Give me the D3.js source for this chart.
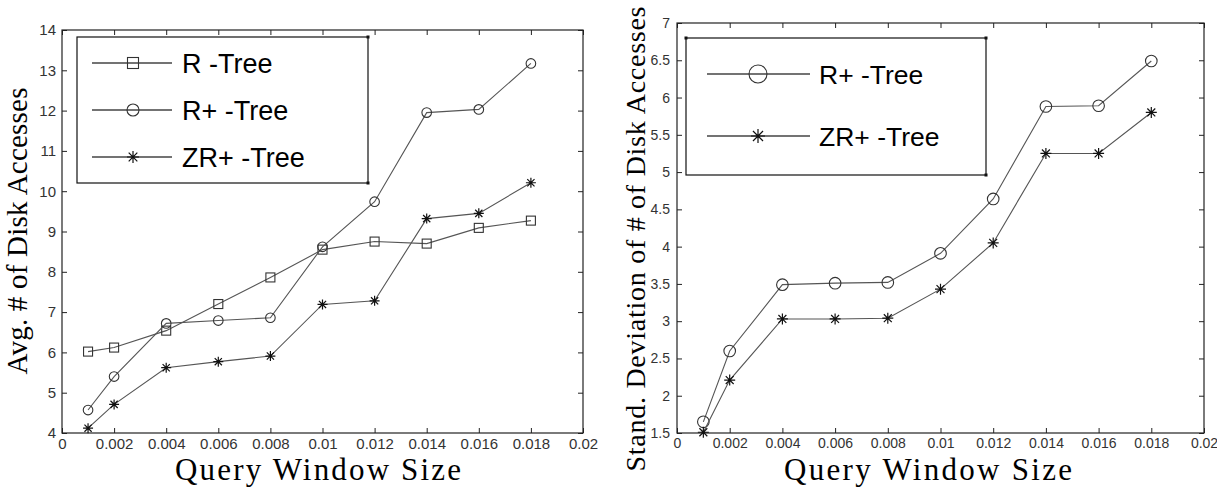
<!DOCTYPE html>
<html>
<head>
<meta charset="utf-8">
<script src="https://cdn.jsdelivr.net/npm/d3@7"></script>
<style>
  html, body { margin: 0; padding: 0; background: #fff; }
  svg { display: block; }
</style>
</head>
<body>
<svg id="chart" width="1217" height="487"></svg>
<script>
// ---------- DATA ----------
const windowSizes = [0.001, 0.002, 0.004, 0.006, 0.008, 0.010, 0.012, 0.014, 0.016, 0.018];

// Left chart: Avg. # of Disk Accesses
const avgRTree   = [6.02, 6.12, 6.54, 7.20, 7.86, 8.55, 8.75, 8.70, 9.09, 9.27];
const avgRPlus   = [4.57, 5.40, 6.72, 6.79, 6.86, 8.62, 9.74, 11.95, 12.03, 13.17];
const avgZRPlus  = [4.12, 4.71, 5.62, 5.77, 5.91, 7.19, 7.28, 9.32, 9.45, 10.21];

// Right chart: Stand. Deviation of # of Disk Accesses
const sdRPlus    = [1.65, 2.60, 3.49, 3.51, 3.52, 3.91, 4.64, 5.88, 5.89, 6.49];
const sdZRPlus   = [1.51, 2.21, 3.03, 3.03, 3.04, 3.43, 4.05, 5.25, 5.25, 5.80];

const xTickValues = [0, 0.002, 0.004, 0.006, 0.008, 0.01, 0.012, 0.014, 0.016, 0.018, 0.02];
const xTickLabels = ["0", "0.002", "0.004", "0.006", "0.008", "0.01", "0.012", "0.014", "0.016", "0.018", "0.02"];
const leftYTicks  = [4, 5, 6, 7, 8, 9, 10, 11, 12, 13, 14];
const leftYLabels = ["4", "5", "6", "7", "8", "9", "10", "11", "12", "13", "14"];
const rightYTicks  = [1.5, 2, 2.5, 3, 3.5, 4, 4.5, 5, 5.5, 6, 6.5, 7];
const rightYLabels = ["1.5", "2", "2.5", "3", "3.5", "4", "4.5", "5", "5.5", "6", "6.5", "7"];

const leftSeriesNames  = ["R -Tree", "R+ -Tree", "ZR+ -Tree"];
const rightSeriesNames = ["R+ -Tree", "ZR+ -Tree"];

const xAxisTitle = "Query Window Size";
const leftYTitle = "Avg. # of Disk Accesses";
const rightYTitle = "Stand. Deviation of # of Disk Accesses";

// ---------- DRAWING ----------
const svg = d3.select("#chart");
const LINE_COLOR = "#555";
const MARK_COLOR = "#333";

function drawMarker(g, type, x, y, s) {
  if (type === "square") {
    g.append("rect").attr("x", x - s).attr("y", y - s).attr("width", 2 * s).attr("height", 2 * s)
      .attr("fill", "none").attr("stroke", MARK_COLOR).attr("stroke-width", 1.1);
  } else if (type === "circle") {
    g.append("circle").attr("cx", x).attr("cy", y).attr("r", s)
      .attr("fill", "none").attr("stroke", MARK_COLOR).attr("stroke-width", 1.1);
  } else if (type === "star") {
    const d = s * 0.72;
    const p = `M${x - s},${y}L${x + s},${y}M${x},${y - s}L${x},${y + s}` +
              `M${x - d},${y - d}L${x + d},${y + d}M${x - d},${y + d}L${x + d},${y - d}`;
    g.append("path").attr("d", p).attr("stroke", "#111").attr("stroke-width", 1.2).attr("fill", "none");
  }
}

function drawPanel(cfg) {
  const g = svg.append("g");
  const x = d3.scaleLinear().domain([0, 0.02]).range([cfg.x0, cfg.x1]);
  const y = d3.scaleLinear().domain(cfg.yDomain).range([cfg.y1, cfg.y0]);

  const fmtX = d => xTickLabels[xTickValues.indexOf(d)];
  const fmtY = d => cfg.yLabels[cfg.yTicks.indexOf(d)];

  const bx = g.append("g").attr("transform", `translate(0,${cfg.y1})`)
    .call(d3.axisBottom(x).tickValues(xTickValues).tickFormat(fmtX)
      .tickSizeInner(-5).tickSizeOuter(0).tickPadding(5));
  const tx = g.append("g").attr("transform", `translate(0,${cfg.y0})`)
    .call(d3.axisTop(x).tickValues(xTickValues).tickFormat("")
      .tickSizeInner(-5).tickSizeOuter(0));
  const ly = g.append("g").attr("transform", `translate(${cfg.x0},0)`)
    .call(d3.axisLeft(y).tickValues(cfg.yTicks).tickFormat(fmtY)
      .tickSizeInner(-5).tickSizeOuter(0).tickPadding(cfg.yPad));
  const ry = g.append("g").attr("transform", `translate(${cfg.x1},0)`)
    .call(d3.axisRight(y).tickValues(cfg.yTicks).tickFormat("")
      .tickSizeInner(-5).tickSizeOuter(0));

  [bx, tx, ly, ry].forEach(a => {
    a.select(".domain").remove();
    a.selectAll(".tick line").attr("stroke", "#222");
    a.selectAll("text").attr("font-family", "Liberation Sans, Arial, sans-serif")
      .attr("font-size", cfg.tickFont).attr("fill", "#333");
  });

  g.append("rect").attr("x", cfg.x0).attr("y", cfg.y0)
    .attr("width", cfg.x1 - cfg.x0).attr("height", cfg.y1 - cfg.y0)
    .attr("fill", "none").attr("stroke", "#222").attr("stroke-width", 1.2);

  const line = d3.line().x((d, i) => x(windowSizes[i])).y(d => y(d));
  cfg.series.forEach(s => {
    g.append("path").datum(s.values).attr("d", line)
      .attr("fill", "none").attr("stroke", LINE_COLOR).attr("stroke-width", 1.1);
    s.values.forEach((v, i) => drawMarker(g, s.marker, x(windowSizes[i]), y(v), s.size));
  });

  const L = cfg.legend;
  g.append("rect").attr("x", L.x0).attr("y", L.y0).attr("width", L.x1 - L.x0).attr("height", L.y1 - L.y0)
    .attr("fill", "#fff").attr("stroke", "#111").attr("stroke-width", 1.2);
  L.corners.forEach(([cx, cy]) => {
    g.append("rect").attr("x", cx - 1.5).attr("y", cy - 1.5).attr("width", 3).attr("height", 3).attr("fill", "#111");
  });
  cfg.series.forEach((s, i) => {
    const ly0 = L.rows[i];
    g.append("line").attr("x1", L.lx0).attr("x2", L.lx1).attr("y1", ly0).attr("y2", ly0)
      .attr("stroke", "#444").attr("stroke-width", 1.3);
    drawMarker(g, s.marker, L.mx, ly0, L.msize[i]);
    g.append("text").attr("x", L.tx).attr("y", ly0).attr("dy", "0.36em")
      .attr("font-family", "Liberation Sans, Arial, sans-serif").attr("font-size", L.font)
      .attr("fill", "#000").text(s.name);
  });

  g.append("text").attr("x", cfg.xTitle.x).attr("y", cfg.xTitle.y).attr("text-anchor", "middle")
    .attr("font-family", "Liberation Serif, Times New Roman, serif").attr("font-size", cfg.xTitle.size)
    .attr("textLength", cfg.xTitle.len).attr("fill", "#000").text(xAxisTitle);
  g.append("text").attr("transform", `translate(${cfg.yTitle.x},${cfg.yTitle.y}) rotate(-90)`)
    .attr("text-anchor", "middle")
    .attr("font-family", "Liberation Serif, Times New Roman, serif").attr("font-size", cfg.yTitle.size)
    .attr("textLength", cfg.yTitle.len).attr("fill", "#000").text(cfg.yTitle.text);
}

drawPanel({
  x0: 62, x1: 583, y0: 30, y1: 433,
  yDomain: [4, 14], yTicks: leftYTicks, yLabels: leftYLabels, yPad: 6, tickFont: 15,
  series: [
    { name: leftSeriesNames[0], values: avgRTree,  marker: "square", size: 4.5 },
    { name: leftSeriesNames[1], values: avgRPlus,  marker: "circle", size: 4.8 },
    { name: leftSeriesNames[2], values: avgZRPlus, marker: "star",   size: 5 }
  ],
  legend: { x0: 77, x1: 368, y0: 37, y1: 183, rows: [63, 110, 157],
            lx0: 92, lx1: 172, mx: 133, tx: 182, font: 27, msize: [5.5, 6, 6],
            corners: [[368, 37], [368, 183]] },
  xTitle: { x: 318, y: 480, size: 31, len: 286 },
  yTitle: { x: 27, y: 231, size: 29, len: 287, text: leftYTitle }
});

drawPanel({
  x0: 677, x1: 1204, y0: 23, y1: 433,
  yDomain: [1.5, 7], yTicks: rightYTicks, yLabels: rightYLabels, yPad: 7, tickFont: 14,
  series: [
    { name: rightSeriesNames[0], values: sdRPlus,  marker: "circle", size: 5.8 },
    { name: rightSeriesNames[1], values: sdZRPlus, marker: "star",   size: 5.5 }
  ],
  legend: { x0: 686, x1: 986, y0: 38, y1: 175, rows: [74, 136],
            lx0: 707, lx1: 810, mx: 758, tx: 819, font: 26.5, msize: [9, 7],
            corners: [[686, 38], [986, 38], [986, 175]] },
  xTitle: { x: 928, y: 480, size: 31, len: 288 },
  yTitle: { x: 645, y: 239, size: 28, len: 465, text: rightYTitle }
});
</script>
</body>
</html>
